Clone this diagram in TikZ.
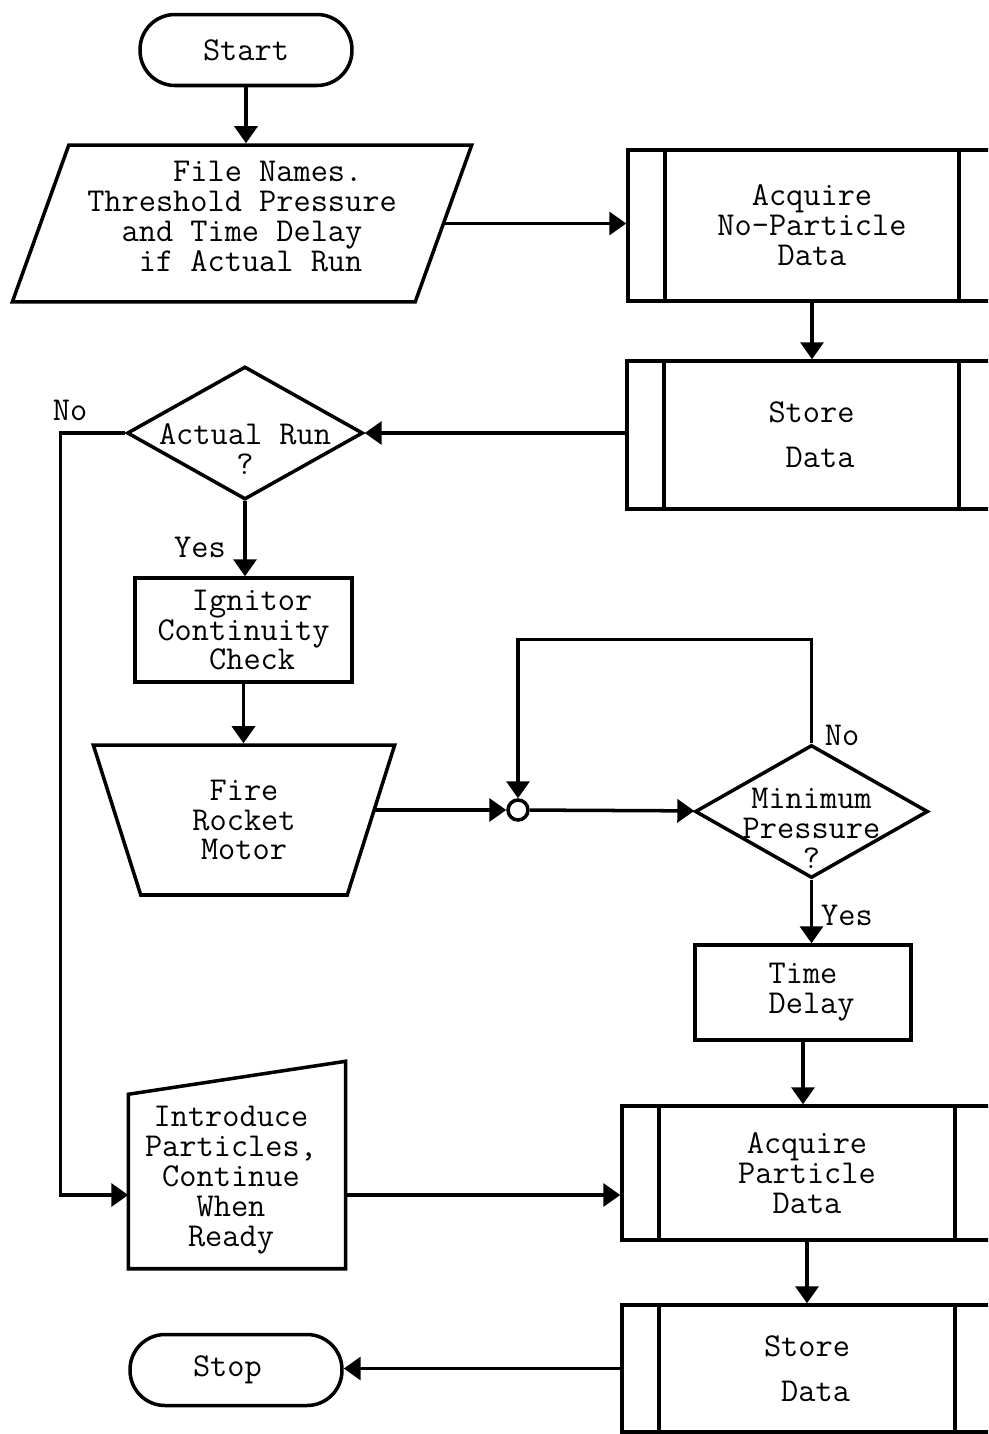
\documentclass[tikz,border=0pt]{standalone}
\usetikzlibrary{arrows.meta,shapes.geometric}

\begin{document}
\begin{tikzpicture}[x=0.02cm, y=-0.02cm, line width=2pt,
  every node/.style={font=\ttfamily\fontsize{19}{17}\selectfont},
  >={Triangle[length=0.34cm, width=0.46cm]},
  term/.style={draw, rounded corners=0.7cm, minimum width=4.24cm, minimum height=1.42cm},
  proc/.style={draw, align=center},
  predef/.style={draw, align=center, minimum width=7.4cm, path picture={
    \draw ([xshift=0.74cm]path picture bounding box.north west) -- ([xshift=0.74cm]path picture bounding box.south west)
      ([xshift=-0.74cm]path picture bounding box.north east) -- ([xshift=-0.74cm]path picture bounding box.south east);}},
  decision/.style={diamond, draw, inner sep=0pt, minimum height=2.66cm}]
  \useasboundingbox (0,0) rectangle (988,1434);
  \clip (0,0) rectangle (988,1434);

  \node[term] (1) at (246,50) {Start\ };
  \node[draw, trapezium, trapezium left angle=69, trapezium right angle=111, trapezium stretches=true,
    minimum width=9.2cm, minimum height=3.14cm, align=center] (2) at (242,223.5)
    {\ \ \ File Names.\\Threshold Pressure\\and Time Delay\\\ if Actual Run\\[-0.3cm]};
  \node[predef, minimum width=7.36cm, minimum height=3.02cm] (3) at (812,225.5) {Acquire\\No-Particle\\Data};
  \node[predef, minimum width=7.38cm, minimum height=2.96cm] (4) at (811.5,435) {Store\\[0.3cm]\ Data};
  \node[decision, minimum width=4.72cm, label={[align=center, yshift=-0.32cm]center:{Actual Run\\?}}] (5) at (245,433) {};
  \node[proc, minimum width=4.34cm, minimum height=2.08cm] (6) at (243.5,630) {\ Ignitor\\Continuity\\\ Check};
  \node[draw, trapezium, trapezium left angle=106, trapezium right angle=106, trapezium stretches=true,
    minimum width=6.08cm, minimum height=3cm, align=center] (7) at (244,820) {Fire\\Rocket\\Motor};
  \node[circle, draw, minimum size=0.4cm, inner sep=0pt] (8) at (518,810) {};
  \node[decision, minimum width=4.66cm, label={[align=center, yshift=-0.34cm]center:{Minimum\\Pressure\\?}}] (9) at (811.5,811.5) {};
  \node[proc, minimum width=4.32cm, minimum height=1.9cm] (10) at (803,992.5) {Time\\\ Delay};
  \node[minimum width=4.28cm, minimum height=4.08cm,
    label={[align=center, xshift=-0.12cm, yshift=-0.3cm]center:{Introduce\\Particles,\\Continue\\When\\Ready}}] (11) at (237,1165) {};
  \node[predef, minimum height=2.68cm] (12) at (807,1173) {Acquire\\Particle\\Data};
  \node[predef, minimum height=2.54cm] (13) at (807,1368.5) {Store\\[0.3cm]\ Data};
  \node[term] (14) at (236,1370) {Stop\ \ };

  \node (no1) at (70,410) {No};
  \node (yes1) at (200,547) {Yes};
  \node (no2) at (842,735) {No};
  \node (yes2) at (847,915) {Yes};

  % manual input outline
  \draw ([yshift=-0.66cm]11.north west) -- (11.north east) -- (11.south east) -- (11.south west) -- cycle;

  \draw[->] (1) -- (1 |- 2.north);
  \draw[->] (2.east) -- (2.east -| 3.west);
  \draw[->] (3.south) -- (3.south |- 4.north);
  \draw[->] (5.east -| 4.west) -- (5.east);
  \draw[->] (5.south) -- (5.south |- 6.north);
  \draw[->] (6) -- (6 |- 7.north);
  \draw[->] (8.west -| 7.east) -- (8.west);
  \draw[->] (8) -- (9);
  \draw[->] (9.north) -- ++(0,-104) -| (8.north);
  \draw[->] (9.south) -- (9.south |- 10.north);
  \draw[->] (10.south) -- (10.south |- 12.north);
  \draw[->] (12) -- (13);
  \draw[->] (13.west) -- (13.west -| 14.east);
  \draw[->] (5.west) -- ++(-65,0) |- ([yshift=-0.6cm]11.west);
  \draw[->] ([yshift=-0.6cm]11.east) -- ([yshift=-0.6cm]11.east -| 12.west);
\end{tikzpicture}
\end{document}
